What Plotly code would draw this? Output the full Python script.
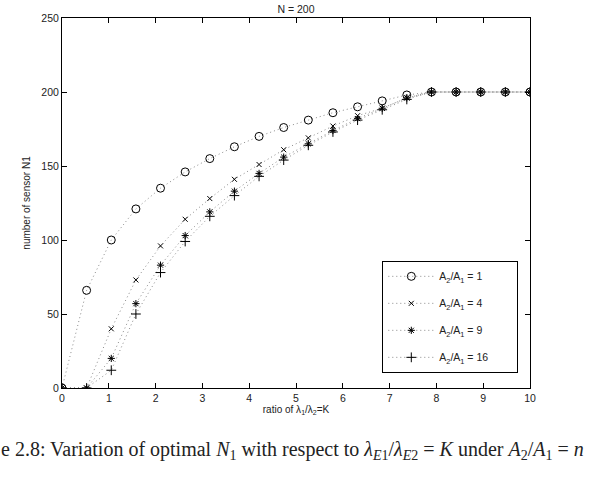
import plotly.graph_objects as go

K = [0, 0.526, 1.053, 1.579, 2.105, 2.632, 3.158, 3.684, 4.211, 4.737,
     5.263, 5.789, 6.316, 6.842, 7.368, 7.895, 8.421, 8.947, 9.474, 10]
n1 = [0, 66, 100, 121, 135, 146, 155, 163, 170, 176, 181, 186, 190, 194, 198, 200, 200, 200, 200, 200]
n4 = [0, 0, 40, 73, 96, 114, 128, 141, 151, 161, 169, 177, 184, 189, 196, 200, 200, 200, 200, 200]
n9 = [0, 0, 20, 57, 83, 103, 119, 133, 145, 156, 165, 174, 182, 189, 196, 200, 200, 200, 200, 200]
n16 = [0, 0, 12, 50, 78, 99, 116, 130, 143, 154, 164, 173, 181, 188, 195, 200, 200, 200, 200, 200]

pad = "&nbsp;" * 8
series = [
    ("A<sub>2</sub>/A<sub>1</sub> = 1" + pad, n1, "circle-open", 8),
    ("A<sub>2</sub>/A<sub>1</sub> = 4" + pad, n4, "x-thin-open", 5),
    ("A<sub>2</sub>/A<sub>1</sub> = 9" + pad, n9, "asterisk-open", 6),
    ("A<sub>2</sub>/A<sub>1</sub> = 16" + pad, n16, "cross-thin-open", 7),
]

fig = go.Figure()
for i, (name, ys, sym, sz) in enumerate(series):
    fig.add_trace(go.Scatter(
        x=K, y=ys, name=name, mode="lines+markers", legendgroup=f"g{i}",
        line=dict(color="#8a8a8a", width=1, dash="1px,3px"),
        marker=dict(symbol=sym, size=sz, color="black",
                    line=dict(color="black", width=1)),
    ))

axis_common = dict(
    showgrid=False, zeroline=False, showline=True, linecolor="black",
    linewidth=1, mirror="ticks", ticks="inside", ticklen=5,
    tickcolor="black", tickfont=dict(size=10.5, color="#222"),
)

fig.update_layout(
    width=592, height=500,
    margin=dict(l=62, r=62, t=18, b=112),
    paper_bgcolor="white", plot_bgcolor="white",
    font=dict(family="Liberation Sans, Arial, sans-serif", color="#222"),
    title=dict(text="N = 200", x=0.5, xanchor="center", y=0.988, yanchor="top",
               font=dict(size=10.5, color="#222")),
    xaxis=dict(range=[0, 10], dtick=1,
               title=dict(text="ratio of λ<sub>1</sub>/λ<sub>2</sub>=K",
                          font=dict(size=10), standoff=3),
               **axis_common),
    yaxis=dict(range=[0, 250], dtick=50,
               title=dict(text="number of sensor N1", font=dict(size=10), standoff=8),
               **axis_common),
    legend=dict(x=0.975, y=0.041, xanchor="right", yanchor="bottom",
                bordercolor="black", borderwidth=1, bgcolor="white",
                font=dict(size=10.5, color="#222"), itemwidth=46,
                tracegroupgap=8),
    showlegend=True,
)

caption = ("e 2.8: Variation of optimal <i>N</i><sub>1</sub> with respect to "
           "<i>λ</i><sub><i>E</i>1</sub>/<i>λ</i><sub><i>E</i>2</sub> = <i>K</i> "
           "under <i>A</i><sub>2</sub>/<i>A</i><sub>1</sub> = <i>n</i>")
fig.add_annotation(text=caption, xref="paper", yref="paper",
                   x=-63/468, y=-(450-388)/370, xanchor="left", yanchor="middle",
                   showarrow=False,
                   font=dict(family="Liberation Serif, DejaVu Serif, serif", size=20, color="#222"))

fig.write_html("out.html")
